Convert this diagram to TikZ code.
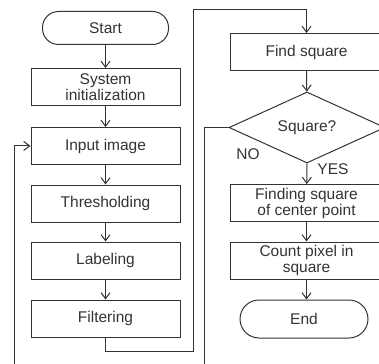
\documentclass[tikz,border=0pt]{standalone}
\usepackage{fontspec}
\setmainfont{Liberation Sans}
\usetikzlibrary{shapes.geometric,arrows.meta}

\tikzset{
  box/.style={draw=black!80,line width=1pt,minimum width=149pt,minimum height=37pt,
    inner sep=1pt,align=center,text=black!80,font=\fontsize{15.5}{16}\selectfont},
  term/.style={box,rounded corners=16pt,minimum width=126pt,minimum height=33pt},
  dec/.style={box,diamond,aspect=2.2,minimum width=156pt,minimum height=71pt,inner sep=0pt},
  lbl/.style={text=black!80,inner sep=0pt,font=\fontsize{15.5}{16}\selectfont},
  line/.style={draw=black!80,line width=1pt},
  arr/.style={line,-{Straight Barb[length=6pt,width=9pt]}},
}

\begin{document}
\begin{tikzpicture}[x=1pt,y=-1pt]
        \useasboundingbox (0,0) rectangle (379,363);

        % left column
        \node[term] (start) at (105.5,28) {Start};
        \node[box] (init) at (105.5,87) {System\\initialization};
        \node[box] (input) at (105.5,146) {Input image};
        \node[box] (thr) at (105.5,203.5) {Thresholding};
        \node[box] (lab) at (105.5,260.5) {Labeling};
        \node[box] (filt) at (105.5,318.5) {Filtering};

        % right column
        \node[box,minimum width=153pt] (find) at (306.5,52) {Find square};
        \node[dec] (sq) at (307,127.5) {Square?};
        \node[box,minimum width=153pt] (cent) at (306.5,203) {Finding square\\of center point};
        \node[box,minimum width=153pt] (count) at (306.5,260.5) {Count pixel in\\square};
        \node[term,minimum width=128pt,minimum height=38pt,rounded corners=19pt] (stop) at (304,319) {End};

        \node[lbl] (no) at (248,154) {NO};
        \node[lbl] (yes) at (333,169) {YES};

        % straight arrows
        \draw[arr] (start) -- (init);
        \draw[arr] (init) -- (input);
        \draw[arr] (input) -- (thr);
        \draw[arr] (thr) -- (lab);
        \draw[arr] (lab) -- (filt);
        \draw[arr] (find) -- (sq);
        \draw[arr] (sq.south) -- (cent);
        \draw[arr] (cent) -- (count);
        \draw[arr] (count) -- (stop.north -| count.south);

        % filtering -> find square
        \coordinate (f1) at (193,351);
        \coordinate (f2) at (193,10);
        \draw[arr] (filt.south) |- (f1) -- (f2) -| (find.north);

        % NO loop back to input image
        \coordinate (n1) at (204,380);
        \coordinate (n2) at (14,380);
        \draw[arr] (sq.west) -| (n1) -- (n2) |- (input.west);
    \end{tikzpicture}
\end{document}
